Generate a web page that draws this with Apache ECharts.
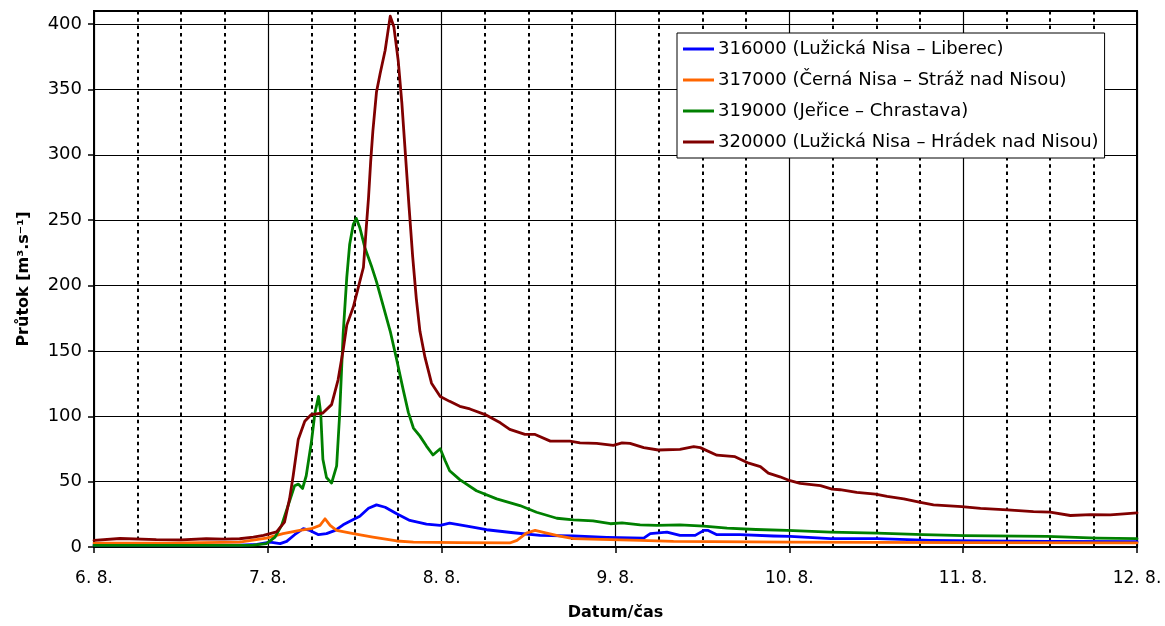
<!DOCTYPE html>
<html><head><meta charset="utf-8">
<script src="https://cdn.jsdelivr.net/npm/echarts@6/dist/echarts.min.js"></script>
<style>html,body{margin:0;padding:0;background:#fff}#c{width:1165px;height:626px}</style>
</head><body><div id="c"></div>
<script>
// ---- data (hours since 6. 8. 00:00, flow m3/s) ----
const seriesNames = [
  '316000 (Lužická Nisa – Liberec)',
  '317000 (Černá Nisa – Stráž nad Nisou)',
  '319000 (Jeřice – Chrastava)',
  '320000 (Lužická Nisa – Hrádek nad Nisou)'
];
const seriesColors = ['#0000FF', '#FF6600', '#008000', '#800000'];
const dayLabels = ['6. 8.', '7. 8.', '8. 8.', '9. 8.', '10. 8.', '11. 8.', '12. 8.'];
const yTicks = [0, 50, 100, 150, 200, 250, 300, 350, 400];

const h316 = [0,10,20.1,22.5,24.3,25.7,26.6,27.7,28.9,29.8,31.0,32.1,33.3,34.4,35.8,36.7,37.9,39.0,40.2,41.8,43.6,45.9,47.8,49.1,51.5,54.2,57.9,61.6,66.2,70.8,75.9,76.8,79.1,80.9,83.0,84.2,84.8,86.0,89.2,93.8,96.1,101.7,108.1,115.5,122.4,131.6,144];
const v316 = [1.5,1.5,1.5,2,3.8,2.6,4.3,9.4,14,12.7,9.4,10.2,12.7,17,21,23.5,29.6,32.2,30.4,25.4,20.3,17.5,16.5,18.2,16,13.2,10.9,8.9,8.4,7.4,6.8,10.2,11.4,8.9,8.9,12.7,12.7,9.4,9.4,8.4,8.1,6.4,6.4,5.1,4.6,4.3,4];

const h317 = [0,10,20.1,23.8,26.1,28.4,30.0,31.2,31.9,32.6,33.5,35.8,38.5,41.8,44.1,50.5,57.4,58.4,59.7,60.9,62.5,64.3,66.2,69.9,75.4,80.0,96.1,120,144];
const v317 = [3,3,3.8,6.8,10.2,12.7,14,16.5,21.6,16.5,12.7,10.2,7.6,4.6,3.8,3.3,3.1,5.1,10.6,12.7,10.6,8.4,6.4,5.8,5.1,4.3,3.8,3.3,3.2];

const h319 = [0,10,20.1,22,23.8,25.0,25.9,26.8,27.7,28.2,28.8,29.3,30.0,30.5,31.0,31.3,31.6,32.1,32.8,33.5,33.9,34.4,34.9,35.3,35.8,36.2,36.7,37.4,38.3,39.0,39.9,40.9,41.8,42.7,43.4,44.1,45.0,45.9,46.8,47.8,48.5,49.1,50.5,52.8,55.6,58.8,61.1,63.9,66.2,68.9,71.3,72.9,75.4,77.7,80.9,84.2,87.4,91.4,95.7,101.7,108.1,114.5,120.1,131.6,138.5,144];
const v319 = [1.3,1.3,1.3,1.5,2.6,7.6,16.5,31.7,46.9,48.1,44.8,54.5,79.7,102.5,115.2,102.5,67.1,53.2,48.9,62,100,163.3,206.3,231.6,246.8,251.4,244.3,229,215,203,185,165,143,120,103,91,84.8,77.2,70.4,75.2,65.8,58.3,51.5,43,36.8,31.7,26.6,22,20.8,20,17.8,18.5,17,16.5,17,16,14.4,13.4,12.7,11.4,10.6,9.4,8.7,8.1,6.8,6.4];

const h320 = [0,3.6,8.6,12,15.5,18,20.1,22,23.4,25.2,26.3,27.0,27.5,28.2,29.1,30.0,31.6,32.8,33.7,34.4,34.9,35.8,36.5,37.2,37.6,37.9,38.2,38.5,39.0,39.5,40.2,40.6,40.9,41.4,42.0,42.5,43.0,43.5,44.0,44.5,45.0,45.7,46.6,47.8,49.1,50.5,51.9,54.0,56.1,57.4,59.5,60.9,63.0,65.7,67.1,69.4,71.7,72.9,74.0,75.9,77.9,80.9,82.8,83.7,86.0,88.5,90.4,92.0,93.1,94.7,96.1,97.5,100.3,101.9,103.0,105.3,107.9,109.5,111.8,114.1,115.9,119.8,122.4,126.1,129.7,132.0,134.8,137.6,140.3,142.2,144];
const v320 = [5.1,6.5,5.6,5.5,6.3,6,6.3,7.5,8.9,11.5,19,36.8,54.5,82.3,96.2,101.3,102.5,108.9,127.9,150.7,169.7,183.6,198.8,214,245,267,295,318,348,362,380,395,406,398,372,340,300,260,222,190,165,145,125.3,115.2,111.4,107.6,105.6,101.3,95,90,86.1,86.1,81,81,79.7,79.3,77.8,79.7,79.3,76,74.2,74.7,76.7,76,70.2,69.1,64.1,61.5,56.5,53.7,50.7,48.6,46.9,44.3,43.8,41.8,40.5,38.7,36.8,34.2,32.2,30.9,29.6,28.4,27.1,26.6,24.1,24.8,24.6,25.4,26.1];

const hs = [h316, h317, h319, h320];
const vs = [v316, v317, v319, v320];

const FONT = 'DejaVu Sans';
const chart = echarts.init(document.getElementById('c'), null, {renderer: 'canvas'});
chart.setOption({
  animation: false,
  backgroundColor: '#fff',
  textStyle: {fontFamily: FONT, color: '#000'},
  grid: {left: 94, right: 28, top: 11, bottom: 74, show: true, borderColor: '#000', borderWidth: 2, containLabel: false},
  legend: {
    orient: 'vertical', left: 677, top: 33,
    backgroundColor: '#fff', borderColor: '#000', borderWidth: 1,
    padding: [6, 6, 6, 6],
    itemWidth: 31, itemHeight: 3, itemGap: 11, icon: 'rect',
    textStyle: {fontFamily: FONT, fontSize: 18, color: '#000', lineHeight: 20, padding: [0, 0, 0, -1]},
    data: seriesNames
  },
  xAxis: {
    type: 'value', min: 0, max: 144, interval: 24,
    name: 'Datum/čas', nameLocation: 'middle', nameGap: 58,
    nameTextStyle: {fontFamily: FONT, fontSize: 16, fontWeight: 'bold', color: '#000'},
    axisLine: {show: true, onZero: false, lineStyle: {color: '#000', width: 2}},
    axisTick: {show: true, length: 6, lineStyle: {color: '#000', width: 1.5}},
    axisLabel: {margin: 23, fontSize: 17, color: '#000', fontFamily: FONT,
      formatter: v => dayLabels[Math.round(v / 24)]},
    splitLine: {show: true, lineStyle: {color: '#000', width: 1.2}},
    minorTick: {show: false, splitNumber: 4},
    minorSplitLine: {show: true, lineStyle: {color: '#000', width: 2, type: [3.5, 3.8]}}
  },
  yAxis: {
    type: 'value', min: 0, max: 410, interval: 50,
    name: 'Průtok [m³.s⁻¹]', nameLocation: 'middle', nameGap: 62, nameRotate: 90,
    nameTextStyle: {fontFamily: FONT, fontSize: 16, fontWeight: 'bold', color: '#000'},
    axisLine: {show: true, lineStyle: {color: '#000', width: 2}},
    axisTick: {show: true, length: 6, customValues: yTicks, lineStyle: {color: '#000', width: 1.5}},
    axisLabel: {margin: 12, fontSize: 18, color: '#000', fontFamily: FONT, customValues: yTicks},
    splitLine: {show: true, lineStyle: {color: '#000', width: 1.2}}
  },
  series: seriesNames.map((n, i) => ({
    name: n, type: 'line', symbol: 'none', smooth: false,
    color: seriesColors[i],
    lineStyle: {color: seriesColors[i], width: 2.8, join: 'round', cap: 'round'},
    data: hs[i].map((h, k) => [h, vs[i][k]]),
    z: 3 + i
  }))
});
</script></body></html>
